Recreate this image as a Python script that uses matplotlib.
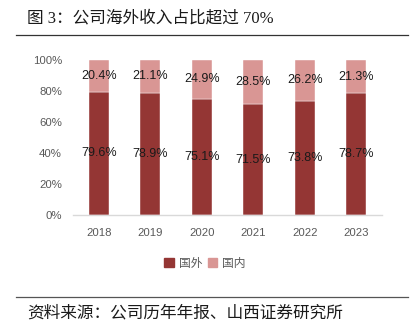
import matplotlib
matplotlib.use("Agg")
import matplotlib.pyplot as plt
from matplotlib.patches import Rectangle
from matplotlib.lines import Line2D
import numpy as np

years = ["2018", "2019", "2020", "2021", "2022", "2023"]
overseas = [79.6, 78.9, 75.1, 71.5, 73.8, 78.7]
domestic = [20.4, 21.1, 24.9, 28.5, 26.2, 21.3]
series_names = ["国外", "国内"]
y_ticks = [0, 20, 40, 60, 80, 100]

dark_red = "#943634"
light_red = "#D99694"
tick_grey = "#595959"

W, H = 415, 329
fig = plt.figure(figsize=(W / 100, H / 100), dpi=100)
fig.patch.set_facecolor("white")

cjk = ["Noto Sans CJK SC", "DejaVu Sans"]
mixed = ["Liberation Serif", "Noto Sans CJK SC"]

# header and footer
fig.text(27 / W, 1 - 18 / H, "图 3：公司海外收入占比超过 70%", family=mixed,
         fontsize=12, color="#1a1a1a", va="center", ha="left")
fig.add_artist(Line2D([16 / W, 408 / W], [1 - 35 / H, 1 - 35 / H],
                      color="#333333", lw=0.9, transform=fig.transFigure))
fig.add_artist(Line2D([16 / W, 408 / W], [1 - 297 / H, 1 - 297 / H],
                      color="#555555", lw=0.9, transform=fig.transFigure))
fig.text(27 / W, 1 - 313 / H, "资料来源：公司历年年报、山西证券研究所", family=cjk,
         fontsize=12, color="#1a1a1a", va="center", ha="left")

# plot area
left, right, top, bottom = 73, 382, 60, 215
ax = fig.add_axes([left / W, 1 - bottom / H, (right - left) / W, (bottom - top) / H])
x = np.arange(len(years))
width = 0.39
ax.bar(x, overseas, width, color=dark_red, edgecolor="white", linewidth=0.3)
ax.bar(x, domestic, width, bottom=overseas, color=light_red, edgecolor="white", linewidth=0.3)

for xi, o, d in zip(x, overseas, domestic):
    ax.text(xi, o / 2, f"{o:.1f}%", ha="center", va="center", fontsize=9,
            family="Liberation Sans", color="#1a1a1a")
    ax.text(xi, o + d / 2, f"{d:.1f}%", ha="center", va="center", fontsize=9,
            family="Liberation Sans", color="#1a1a1a")

ax.set_xlim(-0.5, len(years) - 0.5)
ax.set_ylim(0, 100)
ax.set_yticks(y_ticks)
ax.set_yticklabels([f"{v}%" for v in y_ticks], family="Liberation Sans",
                   fontsize=8.2, color=tick_grey)
ax.set_xticks(x)
ax.set_xticklabels(years, family="Liberation Sans", fontsize=8.2, color=tick_grey)
ax.tick_params(axis="both", length=0)
ax.tick_params(axis="y", pad=8)
ax.tick_params(axis="x", pad=9)
for s in ["top", "right", "left"]:
    ax.spines[s].set_visible(False)
ax.spines["bottom"].set_color("#d9d9d9")
ax.spines["bottom"].set_linewidth(1)

handles = [Rectangle((0, 0), 1, 1, color=dark_red), Rectangle((0, 0), 1, 1, color=light_red)]
leg = fig.legend(handles, series_names, loc="center", bbox_to_anchor=(205 / W, 1 - 263 / H),
                 ncol=2, frameon=False, prop={"family": cjk, "size": 8.5},
                 handlelength=0.8, handleheight=0.8, handletextpad=0.4, columnspacing=0.5,
                 labelcolor=tick_grey)

fig.savefig("out.png", dpi=100, facecolor="white")
